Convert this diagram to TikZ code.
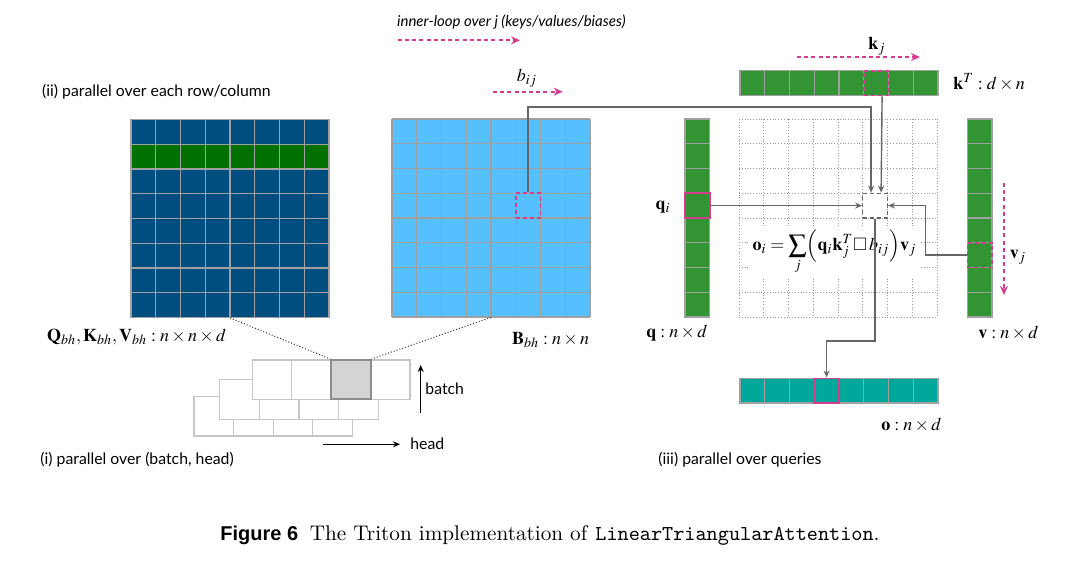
\documentclass[tikz,border=0pt]{standalone}
\usepackage{mathptmx}
\usepackage{amssymb}
\usepackage[no-math]{fontspec}
\setmainfont{Latin Modern Roman}
\setmonofont{Latin Modern Mono}
\newfontfamily\gillfont{Lato}
\newfontfamily\figfont{Liberation Sans}
\usepackage{tikz}
\usetikzlibrary{arrows.meta,positioning,calc}

\definecolor{qkvblue}{HTML}{004D80}
\definecolor{rowgreen}{HTML}{007000}
\definecolor{biasblue}{HTML}{56C0FF}
\definecolor{vecgreen}{HTML}{339433}
\definecolor{outteal}{HTML}{00A89C}
\definecolor{loopink}{HTML}{D63C8E}
\definecolor{cellline}{HTML}{A0A0A0}
\definecolor{conngray}{HTML}{666666}

\begin{document}
\begin{tikzpicture}[x=0.5pt, y=-0.5pt,
  cell/.style={draw=cellline, line width=0.6pt},
  stackcell/.style={draw=black!22, fill=white, line width=0.6pt},
  dotgrid/.style={draw=black!40, densely dotted, line width=0.4pt},
  hlcell/.style={draw=loopink, line width=0.8pt, minimum size=12.375pt, inner sep=0pt},
  hldash/.style={hlcell, dash pattern=on 2pt off 1.5pt},
  target/.style={draw=conngray, fill=white, line width=0.6pt, dash pattern=on 2pt off 1.5pt, minimum size=12.375pt, inner sep=0pt},
  looparrow/.style={draw=loopink, line width=0.9pt, dash pattern=on 2pt off 1.6pt, -{Stealth[length=4.5pt,width=4pt]}},
  conn/.style={draw=conngray, line width=0.7pt, -{Stealth[length=3.5pt,width=3pt]}},
  axis/.style={draw=black, line width=0.6pt, -{Stealth[length=3.5pt,width=3pt]}},
  zoomline/.style={draw=black!80, densely dotted, line width=0.5pt},
  lbl/.style={font=\gillfont\fontsize{7.9}{9}\selectfont, anchor=west, inner sep=0pt},
  mlbl/.style={font=\fontsize{9}{11}\selectfont, anchor=west, inner sep=0pt}
]
\useasboundingbox (0,0) rectangle (1080,561);

% (ii) Q, K, V and bias blocks
\fill[qkvblue] (131,119.5) rectangle ++(198,198);
\fill[rowgreen] (131,144.25) rectangle ++(198,24.75);
\fill[biasblue] (392,119) rectangle ++(198,198);
\foreach \k in {0,...,8} {
  \draw[cell] ({131+\k*24.75},119.5) -- ++(0,198);
  \draw[cell] (131,{119.5+\k*24.75}) -- ++(198,0);
  \draw[cell] ({392+\k*24.75},119) -- ++(0,198);
  \draw[cell] (392,{119+\k*24.75}) -- ++(198,0);
}
\node[inner sep=0pt, minimum width=99pt, minimum height=99pt] (qkv) at (230,218.5) {};
\node[inner sep=0pt, minimum width=99pt, minimum height=99pt] (bgrid) at (491,218) {};
\node[hldash] (bij) at (528.1,205.6) {};

\node[lbl] (rowcap) at (41.7,91.7) {(ii) parallel over each row/column};
\node[mlbl] (qkvlbl) at (46.7,336.7) {$\mathbf{Q}_{bh}, \mathbf{K}_{bh}, \mathbf{V}_{bh} : n \times n \times d$};
\node[mlbl] (blbl) at (511.7,340) {$\mathbf{B}_{bh} : n \times n$};

% inner loop
\node[lbl, font=\gillfont\itshape\fontsize{7.5}{9}\selectfont] (innercap) at (396.7,21.7) {inner-loop over j (keys/values/biases)};
\coordinate (inner0) at (397.7,40.3);
\coordinate (inner1) at (520,40.3);
\draw[looparrow] (inner0) -- (inner1);
\node[mlbl, anchor=center] (bijlbl) at (527,78) {$b_{ij}$};
\coordinate (bloop0) at (493,91.7);
\coordinate (bloop1) at (562.7,91.7);
\draw[looparrow] (bloop0) -- (bloop1);

% (i) batch x head stack
\foreach \i in {0,...,3}
  \filldraw[stackcell] ({194+\i*39.6},396.3) rectangle ++(39.6,39.6);
\foreach \i in {0,...,3}
  \filldraw[stackcell] ({219.7+\i*39.6},379.7) rectangle ++(39.6,39.6);
\foreach \i in {0,...,3}
  \filldraw[stackcell] ({252.3+\i*39.4},360) rectangle ++(39.4,39.4);
\node[draw=black!45, fill=black!17, line width=1pt, minimum size=19.7pt, inner sep=0pt] (bh) at (350.9,379.7) {};
\draw[zoomline] (qkv.south) -- (bh.north west);
\draw[zoomline] (bgrid.south) -- (bh.north east);

\coordinate (batch0) at (420.7,412.7);
\coordinate (batch1) at (420.7,365);
\draw[axis] (batch0) -- (batch1);
\node[lbl] (batchlbl) at (425,389) {batch};
\coordinate (head0) at (322.7,444.3);
\coordinate (head1) at (400,444.3);
\draw[axis] (head0) -- (head1);
\node[lbl] (headlbl) at (410,444) {head};
\node[lbl] (bhcap) at (40,459.3) {(i) parallel over (batch, head)};

% (iii) queries
\foreach \k in {0,...,8} {
  \draw[dotgrid] ({739+\k*24.75},119) -- ++(0,198);
  \draw[dotgrid] (739,{119+\k*24.75}) -- ++(198,0);
}
\fill[vecgreen] (740,70.7) rectangle ++(198,24.75);
\fill[vecgreen] (685,119) rectangle ++(24.75,198);
\fill[vecgreen] (967.3,119) rectangle ++(24.75,198);
\fill[outteal] (740,378.3) rectangle ++(198,24.75);
\foreach \k in {0,...,8} {
  \draw[cell] ({740+\k*24.75},70.7) -- ++(0,24.75);
  \draw[cell] (685,{119+\k*24.75}) -- ++(24.75,0);
  \draw[cell] (967.3,{119+\k*24.75}) -- ++(24.75,0);
  \draw[cell] ({740+\k*24.75},378.3) -- ++(0,24.75);
}
\draw[cell] (740,70.7) rectangle ++(198,24.75);
\draw[cell] (685,119) rectangle ++(24.75,198);
\draw[cell] (967.3,119) rectangle ++(24.75,198);
\draw[cell] (740,378.3) rectangle ++(198,24.75);

\node[hldash] (kj) at (876.1,83.1) {};
\node[hlcell] (qi) at (697.4,205.6) {};
\node[hldash] (vj) at (979.7,255.1) {};
\node[hlcell] (oi) at (826.6,390.7) {};
\node[target] (tgt) at (875.1,205.6) {};

\node[fill=white, inner sep=2pt, font=\fontsize{9}{11}\selectfont] (oeq) at (834.5,252)
  {$\displaystyle \mathbf{o}_i = \sum_j \Bigl(\mathbf{q}_i\mathbf{k}_j^T \square\, b_{ij}\Bigr)\mathbf{v}_j$};

\draw[conn] (bij.north) -- ++(0,-85.5) -| ([xshift=-2pt]tgt.north);
\draw[conn] ([xshift=3pt]kj.south) -- ([xshift=3pt]tgt.north);
\draw[conn] (qi.east) -- (tgt.west);
\draw[conn] (vj.west) -- ++(-41,0) |- (tgt.east);
\draw[conn] (tgt.south) -- ++(0,122.4) -| (oi.north);

\node[mlbl, anchor=center] (kjlbl) at (877,46) {$\mathbf{k}_j$};
\coordinate (kloop0) at (797,57);
\coordinate (kloop1) at (920,57);
\draw[looparrow] (kloop0) -- (kloop1);
\node[mlbl] (ktlbl) at (953,82) {$\mathbf{k}^T : d \times n$};
\node[mlbl, anchor=center] (qilbl) at (663,207) {$\mathbf{q}_i$};
\node[mlbl, anchor=center] (vjlbl) at (1018,257) {$\mathbf{v}_j$};
\coordinate (vloop0) at (1004,183);
\coordinate (vloop1) at (1004,295);
\draw[looparrow] (vloop0) -- (vloop1);

\node[mlbl] (qlbl) at (646,333) {$\mathbf{q} : n \times d$};
\node[mlbl] (vlbl) at (978,333) {$\mathbf{v} : n \times d$};
\node[mlbl] (olbl) at (881,425) {$\mathbf{o} : n \times d$};
\node[lbl] (querycap) at (658,460) {(iii) parallel over queries};

\node[anchor=west, inner sep=0pt, font=\fontsize{10.6}{12}\selectfont] (caption) at (220,535)
  {{\figfont\bfseries\fontsize{10}{12}\selectfont Figure 6}\hspace{0.55em}The Triton implementation of \texttt{LinearTriangularAttention}.};
\end{tikzpicture}
\end{document}
